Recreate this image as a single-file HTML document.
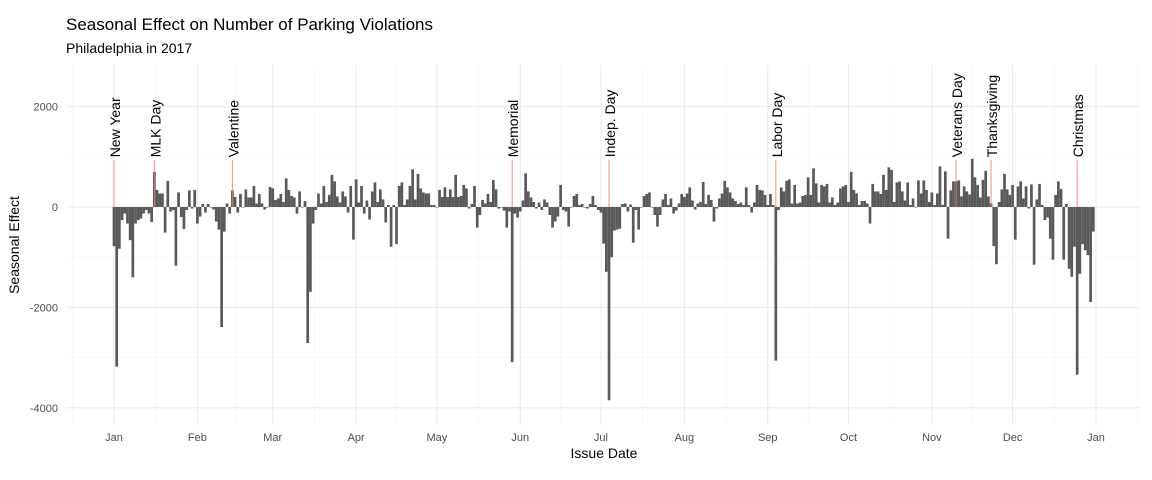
<!DOCTYPE html>
<html><head><meta charset="utf-8"><style>
body{margin:0;background:#fff;}
svg{display:block;font-family:"Liberation Sans",sans-serif;}
</style></head><body>
<svg id="chart" width="1152" height="480">
<text x="66" y="30" font-size="17" fill="#000">Seasonal Effect on Number of Parking Violations</text>
<text x="66" y="53" font-size="14" fill="#000">Philadelphia in 2017</text>
<g id="grid"></g>
<g id="bars"></g>
<g id="hol"></g>
<g id="axes"></g>
<text x="604" y="458" font-size="14" text-anchor="middle">Issue Date</text>
<text transform="translate(19,245) rotate(-90)" font-size="14" text-anchor="middle">Seasonal Effect</text>
</svg>
<script>
const values = [
-780,-3180,-830,-260,-130,-330,-660,-1400,-330,-260,-230,-130,-60,-130,-300,
700,340,270,270,-510,520,-90,-60,-1170,290,-200,-440,-60,330,-30,340,-330,-190,60,-110,60,0,-50,-290,-450,-2390,-490,70,-130,330,200,-110,260,0,350,190,190,420,70,260,70,-50,0,400,370,
140,170,260,100,570,340,220,190,-130,310,0,120,-2710,-1690,-330,-60,270,70,420,100,240,640,510,210,90,310,210,-110,420,-650,550,90,420,-130,130,-250,310,490,100,350,150,-310,40,-790,40,-740,420,490,40,150,420,750,150,660,370,290,270,270,40,40,0,340,
200,390,200,350,200,640,200,220,440,370,-30,60,420,-410,-160,140,70,260,100,540,350,-30,0,-70,-410,-90,-3090,-130,-210,-90,130,670,310,190,100,-30,90,-60,150,90,-160,-410,-290,-190,440,-60,-90,-390,0,220,260,40,60,0,-30,60,220,40,-60,-110,-730,-1290,-3850,
-1000,-470,-450,-430,60,70,-90,50,-710,-60,-450,0,220,260,290,0,-160,-390,-160,150,260,40,170,-130,-70,70,260,200,270,390,130,-50,70,100,500,60,240,140,-290,-30,170,270,520,390,290,170,120,60,90,40,390,40,-110,90,440,340,330,240,40,260,40,
-3060,
-60,390,310,520,550,70,440,70,90,220,240,590,240,770,470,90,440,410,460,90,190,40,90,370,410,440,100,700,340,270,40,120,120,70,-330,460,310,310,260,640,340,790,740,100,490,510,310,130,490,40,170,0,530,270,530,340,100,290,40,270,810,40,710,
-630,330,510,510,530,210,410,310,250,960,590,440,190,540,720,210,70,-780,-1140,100,350,660,350,240,440,-650,410,510,170,410,-30,450,-1150,150,460,40,-260,-210,-630,-1050,240,510,360,-1050,60,-1230,-1390,-790,-3340,-1330,-740,-860,-960,-1890,-490
];
const holidayNames = ["New Year","MLK Day","Valentine","Memorial","Indep. Day","Labor Day","Veterans Day","Thanksgiving","Christmas"];
const holidayDays = [0,15,44,148,184,246,313,326,358];
const monthLabels = ["Jan","Feb","Mar","Apr","May","Jun","Jul","Aug","Sep","Oct","Nov","Dec","Jan"];
const monthStarts = [0,31,59,90,120,151,181,212,243,273,304,334,365];
const yTicks = [2000,0,-2000,-4000];

const NS="http://www.w3.org/2000/svg";
const X0=114, X1=1096, L=66, R=1140, T=65, B=425;
const x = d => X0 + d*(X1-X0)/365;
const y = v => 207 - v*0.0502;
function mk(tag, attrs, parent){const e=document.createElementNS(NS,tag);for(const k in attrs)e.setAttribute(k,attrs[k]);parent.appendChild(e);return e;}
const grid=document.getElementById('grid'), bars=document.getElementById('bars'), hol=document.getElementById('hol'), axes=document.getElementById('axes');

for(let i=0;i<yTicks.length-1;i++){
  const m=(yTicks[i]+yTicks[i+1])/2;
  const g=mk('line',{x1:L,x2:R,y1:y(m),y2:y(m),stroke:'#f4f4f4','stroke-width':0.6},grid);
  
  
}
for(let i=0;i<monthStarts.length-1;i++){
  const m=(monthStarts[i]+monthStarts[i+1])/2;
  const g=mk('line',{x1:x(m),x2:x(m),y1:T,y2:B,stroke:'#f4f4f4','stroke-width':0.6},grid);
  
  
}
{const g=mk('line',{x1:x(-15.5),x2:x(-15.5),y1:T,y2:B,stroke:'#f4f4f4','stroke-width':0.6},grid);

}
{const g=mk('line',{x1:x(380.5),x2:x(380.5),y1:T,y2:B,stroke:'#f4f4f4','stroke-width':0.6},grid);

}
yTicks.forEach(v=>{
  const g=mk('line',{x1:L,x2:R,y1:y(v),y2:y(v),stroke:'#ebebeb','stroke-width':1.1},grid);
  
  
  const t=mk('text',{x:58,y:y(v)+4,'font-size':11,fill:'#4d4d4d','text-anchor':'end'},axes);
  t.textContent=v;
  
  
});
monthStarts.forEach((d,i)=>{
  const g=mk('line',{x1:x(d),x2:x(d),y1:T,y2:B,stroke:'#ebebeb','stroke-width':1.1},grid);
  
  
  const t=mk('text',{x:x(d),y:441,'font-size':11,fill:'#4d4d4d','text-anchor':'middle'},axes);
  t.textContent=monthLabels[i];
  
  
});
const bw=(X1-X0)/365;
values.forEach((v,d)=>{
  const cx=x(d), y0=y(0), yv=y(v);
  const r=mk('rect',{x:cx-bw*0.5,width:bw,y:Math.min(y0,yv),height:Math.max(0.5,Math.abs(yv-y0)),fill:'#595959'},bars);
  
  
});
holidayDays.forEach((d,i)=>{
  const l=mk('line',{x1:x(d),x2:x(d),y1:y(0),y2:y(930),stroke:'#f8766d','stroke-width':1,opacity:0.85},hol);
  
  
  const t=mk('text',{transform:`translate(${x(d)+6},${y(990)}) rotate(-90)`,'font-size':14,fill:'#000'},hol);
  t.textContent=holidayNames[i];
  
  
});
</script>
</body></html>
